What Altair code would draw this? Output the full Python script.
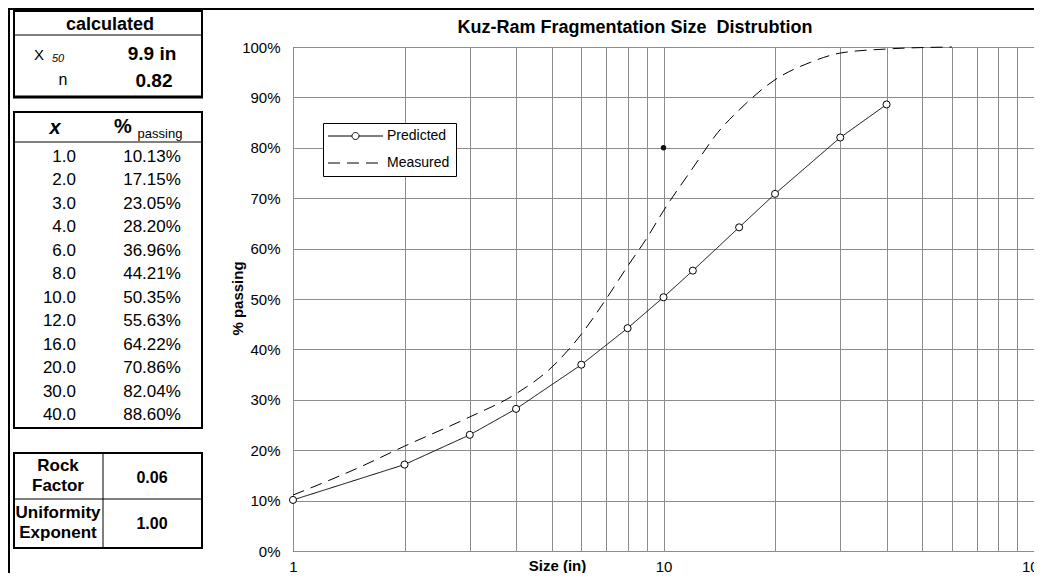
import altair as alt
import pandas as pd

# ---------------- data ----------------
pred_x = [1, 2, 3, 4, 6, 8, 10, 12, 16, 20, 30, 40]
pred_pct = [10.13, 17.15, 23.05, 28.20, 36.96, 44.21, 50.35, 55.63, 64.22, 70.86, 82.04, 88.60]

meas_x = [1, 1.5, 2, 3, 4, 5, 6, 7, 8, 9, 10, 12, 14, 16, 20, 25, 30, 40, 60]
meas_pct = [11.1, 16.5, 20.8, 26.6, 31.2, 36.5, 43.0, 50.0, 56.5, 62.0, 67.5, 76.0,
            83.0, 87.5, 93.5, 97.0, 98.8, 99.6, 100.0]

extra_x = [10]
extra_pct = [80]

series_names = ["Predicted", "Measured"]
x_grid = [1, 2, 3, 4, 5, 6, 7, 8, 9, 10, 20, 30, 40, 50, 60, 70, 80, 90, 100]
y_ticks = [0, 0.1, 0.2, 0.3, 0.4, 0.5, 0.6, 0.7, 0.8, 0.9, 1.0]

chart_title = "Kuz-Ram Fragmentation Size\u00a0 Distrubtion"
x_title = "Size (in)"
y_title = "% passing"

calc_header = "calculated"
calc_x50_label = "X"
calc_x50_sub = "50"
calc_x50_value = "9.9 in"
calc_n_label = "n"
calc_n_value = "0.82"
tbl_head_x = "x"
tbl_head_pct = "%"
tbl_head_sub = "passing"
rock_label = ["Rock", "Factor"]
rock_value = "0.06"
unif_label = ["Uniformity", "Exponent"]
unif_value = "1.00"

FONT = "Liberation Sans"

# ---------------- main plot ----------------
pred_df = pd.DataFrame({"size": pred_x, "pct": [p / 100 for p in pred_pct], "series": "Predicted"})
meas_df = pd.DataFrame({"size": meas_x, "pct": [p / 100 for p in meas_pct], "series": "Measured"})
extra_df = pd.DataFrame({"size": extra_x, "pct": [p / 100 for p in extra_pct]})

size_scale = alt.Scale(type="log", domain=[1, 100], nice=False)
pct_scale = alt.Scale(domain=[0, 1], nice=False)
dash_scale = alt.Scale(domain=series_names, range=[[1, 0], [12, 7]])

PRED_PATH = "M-1.23,0H2.46M3.54,0H7.23M3.54,0A0.54,0.54,0,1,1,2.46,0A0.54,0.54,0,1,1,3.54,0"
MEAS_PATH = "M-1.23,0H7.23"

x_axis = alt.Axis(
    values=x_grid, format="d",
    labelExpr="datum.value === 1 || datum.value === 10 || datum.value === 100 ? datum.label : ''",
    grid=True, gridColor="#8c8c8c", gridWidth=1, domain=False, ticks=False, tickSize=0,
    labelFont=FONT, labelFontSize=15, labelColor="black", labelPadding=15,
    labelBaseline="middle", labelFlush=False, labelOverlap=False,
    title=x_title, titleFont=FONT, titleFontSize=15, titleFontWeight="bold", titleColor="black",
    titleX=264, titleY=14, titleBaseline="middle", titleAlign="center",
)
y_axis = alt.Axis(
    values=y_ticks, format=".0%",
    grid=True, gridColor="#8c8c8c", gridWidth=1, domain=False, ticks=False, tickSize=0,
    labelFont=FONT, labelFontSize=15, labelColor="black", labelPadding=13,
    labelAlign="right", labelBaseline="middle", labelOverlap=False, labelFlush=False,
    title=y_title, titleFont=FONT, titleFontSize=15, titleFontWeight="bold", titleColor="black",
    titleX=-56, titleY=251, titleAngle=270, titleBaseline="middle", titleAlign="center",
)
legend = alt.Legend(
    title=None, orient="none", legendX=30, legendY=76,
    strokeColor="black", fillColor="white", padding=6,
    labelFont=FONT, labelFontSize=14, labelColor="black", labelOffset=44,
    symbolSize=169, symbolStrokeWidth=1, symbolStrokeColor="black", symbolFillColor="white",
    symbolType=alt.ExprRef("datum.value === 'Predicted' ? '%s' : '%s'" % (PRED_PATH, MEAS_PATH)),
    rowPadding=13,
)

x_enc = alt.X("size:Q", scale=size_scale, axis=x_axis)
y_enc = alt.Y("pct:Q", scale=pct_scale, axis=y_axis)
dash_enc = alt.StrokeDash("series:N", scale=dash_scale, legend=legend)

pred_line = alt.Chart(pred_df).mark_line(color="black", strokeWidth=1).encode(
    x=x_enc, y=y_enc, strokeDash=dash_enc)
meas_line = alt.Chart(meas_df).mark_line(color="black", strokeWidth=1, interpolate="monotone").encode(
    x=x_enc, y=y_enc, strokeDash=dash_enc)
pred_pts = alt.Chart(pred_df).mark_point(
    shape="circle", filled=True, fill="white", stroke="black", strokeWidth=1, size=50, opacity=1
).encode(x=x_enc, y=y_enc)
extra_pt = alt.Chart(extra_df).mark_point(
    shape="circle", filled=True, color="#111111", size=30, opacity=1
).encode(x=x_enc, y=y_enc)

main = alt.layer(pred_line, meas_line, pred_pts, extra_pt)

# ---------------- side tables and heading (page layout units) ----------------
TX = alt.Scale(domain=[0, 1042], range=[-293, 749], nice=False, zero=False)
TY = alt.Scale(domain=[0, 581], range=[-47, 534], nice=False, zero=False)

L, R = 14, 202
rules = [
    # outer frame
    (9, 8, 9, 581, 2), (8, 9, 1042, 9, 2),
    # table 1
    (L - 1, 11, R + 1, 11, 2), (L - 1, 97, R + 1, 97, 3), (L, 11, L, 97, 2), (R, 11, R, 97, 2),
    (L, 35, R, 35, 1),
    # table 2
    (L - 1, 112, R + 1, 112, 2), (L - 1, 428, R + 1, 428, 2), (L, 112, L, 428, 2), (R, 112, R, 428, 2),
    (L, 142, R, 142, 1),
    # table 3
    (L - 1, 453, R + 1, 453, 2), (L - 1, 548, R + 1, 548, 2), (L, 453, L, 548, 2), (R, 453, R, 548, 2),
    (L, 499, R, 499, 1), (103, 453, 103, 548, 1),
]
rules_df = pd.DataFrame(rules, columns=["x", "y", "x2", "y2", "w"])
rule_layer = alt.Chart(rules_df).mark_rule(color="black").encode(
    x=alt.X("x:Q", scale=TX, axis=None), x2="x2:Q",
    y=alt.Y("y:Q", scale=TY, axis=None), y2="y2:Q",
    strokeWidth=alt.StrokeWidth("w:Q", scale=None),
)

row_y = [157 + i * 23.45 for i in range(len(pred_x))]
x_labels = ["%.1f" % v for v in pred_x]
pct_labels = ["%.2f%%" % v for v in pred_pct]

center_regular = pd.DataFrame(
    [(152, y, t, 17) for y, t in zip(row_y, pct_labels)]
    + [(39, 55, calc_x50_label, 15), (63, 80, calc_n_label, 16), (160, 134, tbl_head_sub, 13)],
    columns=["x", "y", "t", "fs"])
right_regular = pd.DataFrame([(76, y, t, 17) for y, t in zip(row_y, x_labels)],
                             columns=["x", "y", "t", "fs"])
center_bold = pd.DataFrame([
    (635, 28, chart_title, 18),
    (110, 25, calc_header, 18), (152, 54, calc_x50_value, 19), (154, 81, calc_n_value, 19),
    (123, 127, tbl_head_pct, 20),
    (58, 466, rock_label[0], 17), (58, 486, rock_label[1], 17), (152, 478, rock_value, 16),
    (58, 513, unif_label[0], 17), (58, 533, unif_label[1], 17), (152, 524, unif_value, 16),
], columns=["x", "y", "t", "fs"])
italic_regular = pd.DataFrame([(58, 59, calc_x50_sub, 11)], columns=["x", "y", "t", "fs"])
bold_italic = pd.DataFrame([(55, 128, tbl_head_x, 20)], columns=["x", "y", "t", "fs"])


def text_layer(df, **kw):
    return alt.Chart(df).mark_text(baseline="middle", color="black", font=FONT, **kw).encode(
        x=alt.X("x:Q", scale=TX, axis=None),
        y=alt.Y("y:Q", scale=TY, axis=None),
        text="t:N",
        size=alt.Size("fs:Q", scale=None),
    )


table = alt.layer(
    rule_layer,
    text_layer(center_regular, align="center"),
    text_layer(right_regular, align="right"),
    text_layer(center_bold, align="center", fontWeight="bold"),
    text_layer(italic_regular, align="center", fontStyle="italic"),
    text_layer(bold_italic, align="center", fontWeight="bold", fontStyle="italic"),
)

# whole picture: 1026 x 565 so that the 1042 x 581 page (8px margin) needs no scrolling
chart = alt.layer(main, table).resolve_scale(
    x="independent", y="independent", strokeWidth="independent", size="independent"
).properties(
    width=741, height=504,
    padding={"left": 285, "top": 39, "right": 0, "bottom": 22},
    autosize=alt.AutoSizeParams(type="none"),
    background="white",
).configure_view(stroke="#1a1a1a", strokeWidth=1)

chart.save("out.html", embed_options={"renderer": "svg", "actions": False})
